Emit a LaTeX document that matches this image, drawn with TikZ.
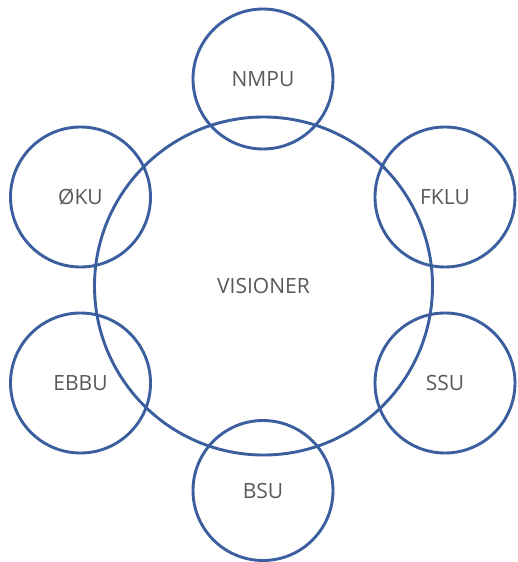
\documentclass[tikz,border=0pt]{standalone}
\usepackage{fontspec}
\setmainfont{Open Sans}
\definecolor{ring}{HTML}{3A5E9E}
\definecolor{txt}{HTML}{595959}
\begin{document}
\begin{tikzpicture}[x=1pt,y=-1pt,
  ringstyle/.style={circle,draw=ring,line width=2.9pt,inner sep=0pt,text=txt,font=\fontsize{21}{24}\selectfont},
  small/.style={ringstyle,minimum size=140pt}]
\useasboundingbox (0,0) rectangle (517,562);
\node[ringstyle,minimum size=338pt] (vis) at (263.5,286) {VISIONER};
\node[small] (nmpu) at (263,79) {NMPU};
\node[small] (oku) at (80.5,197) {ØKU};
\node[small] (fklu) at (445,197) {FKLU};
\node[small] (ebbu) at (80.5,383) {EBBU};
\node[small] (ssu) at (445,383) {SSU};
\node[small] (bsu) at (263,490.5) {BSU};
\end{tikzpicture}
\end{document}
